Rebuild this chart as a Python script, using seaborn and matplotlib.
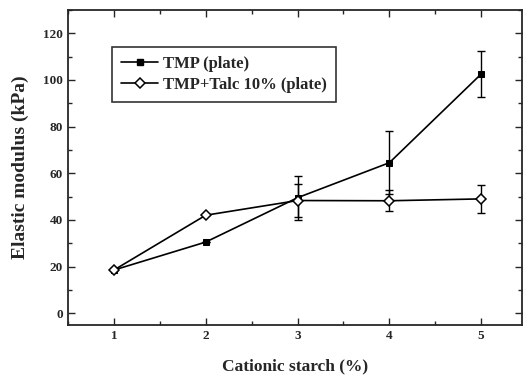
import matplotlib
matplotlib.use("Agg")
import matplotlib.pyplot as plt
import seaborn as sns
import pandas as pd
import numpy as np
from matplotlib.lines import Line2D

starch = [1, 2, 3, 4, 5]
tmp_vals = [18.5, 30.5, 49.5, 64.5, 102.5]
tmp_err = [0, 0, 9.5, 13.5, 10]
talc_vals = [18.5, 42, 48.3, 48.2, 49]
talc_err = [0, 0, 7, 4.5, 6]
labels = ["TMP (plate)", "TMP+Talc 10% (plate)"]

sns.set_style("ticks")
plt.rcParams['font.family'] = ['Liberation Serif', 'DejaVu Serif']
plt.rcParams['font.weight'] = 'bold'

fig = plt.figure(figsize=(5.23, 3.8), dpi=100)
ax = fig.add_axes([0.130, 0.145, 0.869, 0.829])

df = pd.DataFrame({
    "x": starch * 2,
    "y": tmp_vals + talc_vals,
    "s": [labels[0]] * 5 + [labels[1]] * 5,
})

sns.lineplot(data=df, x="x", y="y", hue="s", style="s",
             palette=["black", "black"], markers=["s", "D"], dashes=False,
             markersize=4.5, linewidth=1.2, ax=ax, legend=False)
lines = ax.get_lines()
lines[0].set_markerfacecolor("black")
lines[0].set_markeredgecolor("black")
lines[1].set_markerfacecolor("white")
lines[1].set_markeredgecolor("black")
lines[1].set_markeredgewidth(1.1)
lines[1].set_markersize(5)
lines[1].set_zorder(3)

ax.errorbar(starch, tmp_vals, yerr=tmp_err, fmt="none", ecolor="black",
            elinewidth=1, capsize=3, capthick=1)
ax.errorbar(starch, talc_vals, yerr=talc_err, fmt="none", ecolor="black",
            elinewidth=1, capsize=3, capthick=1)

ax.set_xlim(0.5, 5.45)
ax.set_ylim(-5, 130)
ax.set_xticks(starch)
ax.set_xticks(np.arange(0.5, 5.5, 0.5), minor=True)
ax.set_yticks(range(0, 121, 20))
ax.set_yticks(range(0, 131, 10), minor=True)
ax.tick_params(which="both", direction="in", top=True, right=True, width=1)
ax.tick_params(which="major", length=5, labelsize=9.5)
ax.tick_params(which="minor", length=3)
for sp in ax.spines.values():
    sp.set_linewidth(1.3)

ax.set_xlabel("Cationic starch (%)", fontsize=12.5, fontweight="bold", labelpad=12)
ax.set_ylabel("Elastic modulus (kPa)", fontsize=14, fontweight="bold", labelpad=10)

handles = [
    Line2D([], [], color="black", marker="s", markersize=4.5, linewidth=1.2),
    Line2D([], [], color="black", marker="D", markersize=5, markerfacecolor="white",
           markeredgewidth=1.1, linewidth=1.2),
]
leg = ax.legend(handles, labels, loc="upper left", bbox_to_anchor=(0.097, 0.882),
                borderaxespad=0, frameon=True, fancybox=False, edgecolor="black",
                fontsize=12, handlelength=2.2, borderpad=0.55, labelspacing=0.3,
                handletextpad=0.3)
leg.get_frame().set_linewidth(1.2)

fig.savefig("out.png", dpi=100)
